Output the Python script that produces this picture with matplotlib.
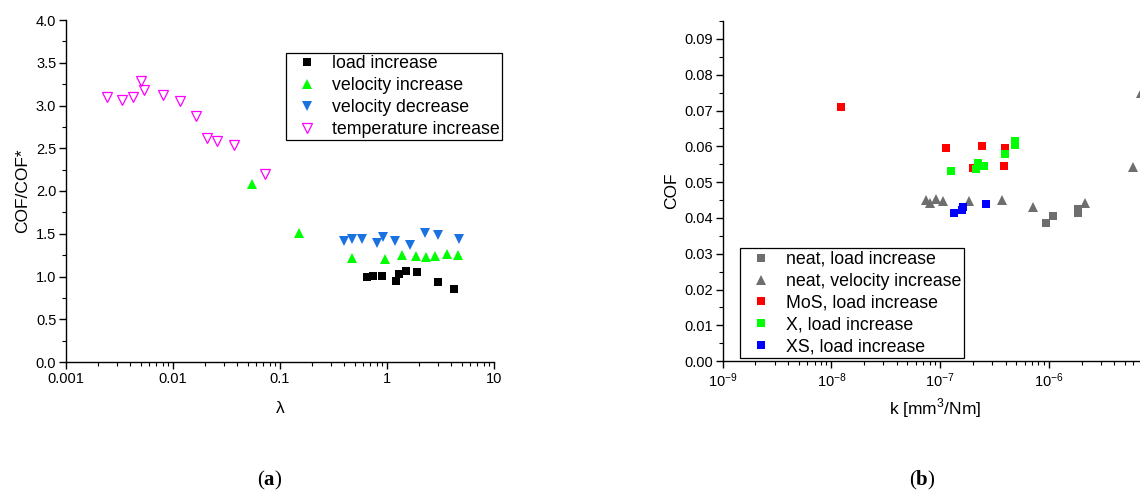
import matplotlib
matplotlib.use("Agg")
import matplotlib.pyplot as plt
from matplotlib.ticker import FixedLocator, FixedFormatter, LogLocator, MultipleLocator, FormatStrFormatter, NullFormatter

plt.rcParams['font.family'] = ['Liberation Sans', 'DejaVu Sans']
plt.rcParams['mathtext.fontset'] = 'custom'
plt.rcParams['mathtext.rm'] = 'Liberation Sans'
plt.rcParams['mathtext.bf'] = 'Liberation Serif:bold'

# ---- panel (a): COF/COF* vs lambda ----
load_x = [0.65, 0.74, 0.90, 1.21, 1.285, 1.51, 1.92, 3.00, 4.23]
load_y = [0.99, 1.006, 1.006, 0.947, 1.026, 1.07, 1.05, 0.94, 0.85]

velinc_x = [0.0547, 0.151, 0.468, 0.958, 1.37, 1.85, 2.33, 2.79, 3.61, 4.58]
velinc_y = [2.085, 1.51, 1.22, 1.20, 1.25, 1.24, 1.23, 1.24, 1.26, 1.255]

veldec_x = [0.396, 0.468, 0.588, 0.80, 0.925, 1.20, 1.65, 2.25, 3.02, 4.74]
veldec_y = [1.41, 1.44, 1.44, 1.395, 1.46, 1.42, 1.37, 1.51, 1.49, 1.435]

temp_x = [0.0024, 0.00336, 0.00425, 0.00502, 0.00536, 0.00807, 0.0117,
          0.0164, 0.0207, 0.0258, 0.0369, 0.073]
temp_y = [3.10, 3.07, 3.10, 3.29, 3.18, 3.12, 3.05, 2.88, 2.62, 2.58, 2.54, 2.20]

# ---- panel (b): COF vs wear rate k ----
neat_load_k = [9.43e-7, 1.09e-6, 1.85e-6, 1.87e-6]
neat_load_cof = [0.0387, 0.0406, 0.0413, 0.0425]

neat_vel_k = [7.37e-8, 8.13e-8, 9.1e-8, 1.06e-7, 1.85e-7, 3.71e-7, 7.21e-7,
              2.17e-6, 5.99e-6, 7.05e-6]
neat_vel_cof = [0.0450, 0.0441, 0.0453, 0.0447, 0.0446, 0.0450, 0.0431,
                0.0441, 0.0543, 0.0748]

mos_k = [1.23e-8, 1.13e-7, 2.0e-7, 2.43e-7, 3.93e-7, 3.9e-7]
mos_cof = [0.0711, 0.0596, 0.0539, 0.0601, 0.0595, 0.0545]

x_k = [1.27e-7, 2.13e-7, 2.22e-7, 2.54e-7, 3.95e-7, 4.89e-7, 4.93e-7]
x_cof = [0.0532, 0.0537, 0.0553, 0.0546, 0.0579, 0.0615, 0.0604]

xs_k = [1.33e-7, 1.58e-7, 1.62e-7, 2.66e-7]
xs_cof = [0.0415, 0.0423, 0.0430, 0.0440]

fig = plt.figure(figsize=(11.4, 4.95), dpi=100)

ax1 = fig.add_axes([66/1140, 1-362/495, 428/1140, 342/495])
# right panel is cropped by the figure edge, as in the source image
ax2 = fig.add_axes([722.7/1140, 1-361.2/495, 424.3/1140, 340.2/495])

sq = 5.6
tri = 7.0

ax1.plot(load_x, load_y, 's', color='black', ms=sq, mew=0, label='load increase')
ax1.plot(velinc_x, velinc_y, '^', color='#00ff00', ms=tri, mew=0, label='velocity increase')
ax1.plot(veldec_x, veldec_y, 'v', color='#1a72e0', ms=tri, mew=0, label='velocity decrease')
ax1.plot(temp_x, temp_y, 'v', mfc='none', mec='#ff00ff', ms=tri, mew=0.9, label='temperature increase')

gray = '#6e6e6e'
ax2.plot(neat_load_k, neat_load_cof, 's', color=gray, ms=sq, mew=0, label='neat, load increase')
ax2.plot(neat_vel_k, neat_vel_cof, '^', color=gray, ms=tri, mew=0, label='neat, velocity increase')
ax2.plot(mos_k, mos_cof, 's', color='#ff0000', ms=sq, mew=0, label='MoS, load increase')
ax2.plot(x_k, x_cof, 's', color='#00ff00', ms=sq, mew=0, label='X, load increase')
ax2.plot(xs_k, xs_cof, 's', color='#0000ff', ms=sq, mew=0, label='XS, load increase')

for ax in (ax1, ax2):
    ax.set_xscale('log')
    ax.spines['top'].set_visible(False)
    ax.spines['right'].set_visible(False)
    ax.spines['left'].set_linewidth(1.0)
    ax.spines['bottom'].set_linewidth(1.0)
    ax.tick_params(which='major', direction='out', length=5, width=1.0, labelsize=10.5, pad=2)
    ax.tick_params(which='minor', direction='out', length=3, width=0.8)
    ax.xaxis.set_minor_locator(LogLocator(base=10, subs=range(2, 10), numticks=20))
    ax.xaxis.set_minor_formatter(NullFormatter())

ax1.set_xlim(0.001, 10)
ax1.set_ylim(0, 4)
ax1.xaxis.set_major_locator(FixedLocator([0.001, 0.01, 0.1, 1, 10]))
ax1.xaxis.set_major_formatter(FixedFormatter(['0.001', '0.01', '0.1', '1', '10']))
ax1.yaxis.set_major_locator(MultipleLocator(0.5))
ax1.yaxis.set_minor_locator(MultipleLocator(0.25))
ax1.yaxis.set_major_formatter(FormatStrFormatter('%.1f'))
ax1.set_xlabel('λ', fontsize=12.5, labelpad=11)
ax1.set_ylabel('COF/COF*', fontsize=12.5, labelpad=4)

ax2.set_xlim(1e-9, 8e-6)
ax2.set_ylim(0, 0.095)
ax2.xaxis.set_major_locator(LogLocator(base=10, numticks=10))
ax2.yaxis.set_major_locator(MultipleLocator(0.01))
ax2.yaxis.set_minor_locator(MultipleLocator(0.005))
ax2.yaxis.set_major_formatter(FormatStrFormatter('%.2f'))
ax2.set_xlabel('k [mm$^{3}$/Nm]', fontsize=12.5, labelpad=5)
ax2.set_ylabel('COF', fontsize=12.5, labelpad=4)

leg_kw = dict(fontsize=12.8, frameon=True, fancybox=False, edgecolor='black',
              numpoints=1, handlelength=2.06, handletextpad=0.37, labelspacing=0.27,
              borderpad=0.15, borderaxespad=0, loc='upper left',
              bbox_transform=fig.transFigure)
leg1 = ax1.legend(bbox_to_anchor=(286/1140, 1-52.7/495), **leg_kw)
leg2 = ax2.legend(bbox_to_anchor=(740/1140, 1-248.3/495), **leg_kw)
for leg in (leg1, leg2):
    leg.get_frame().set_linewidth(0.9)
    leg.get_frame().set_alpha(1)

fig.text(270/1140, 1-480/495, r'($\mathbf{a}$)', family='Liberation Serif',
         fontsize=15, ha='center', va='center')
fig.text(922/1140, 1-480/495, r'($\mathbf{b}$)', family='Liberation Serif',
         fontsize=15, ha='center', va='center')

fig.savefig('out.png', dpi=100)
